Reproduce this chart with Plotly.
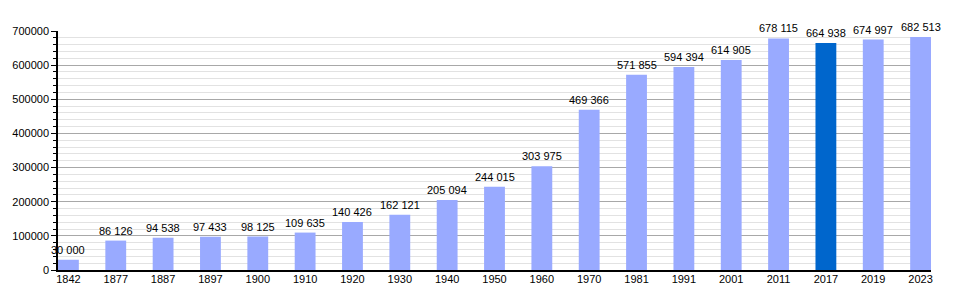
import plotly.graph_objects as go

years = ["1842", "1877", "1887", "1897", "1900", "1910", "1920", "1930", "1940", "1950",
         "1960", "1970", "1981", "1991", "2001", "2011", "2017", "2019", "2023"]
population = [30000, 86126, 94538, 97433, 98125, 109635, 140426, 162121, 205094, 244015,
              303975, 469366, 571855, 594394, 614905, 678115, 664938, 674997, 682513]
highlight_year = "2017"
y_ticks = [0, 100000, 200000, 300000, 400000, 500000, 600000, 700000]

base_color = "#99AAFF"
hl_color = "#0066CC"
colors = [hl_color if y == highlight_year else base_color for y in years]
labels = [f"{v:,}".replace(",", " ") for v in population]
xs = list(range(len(years)))

fig = go.Figure(go.Bar(
    x=xs, y=population, width=0.44,
    marker=dict(color=colors, line=dict(width=0)),
    hoverinfo="skip",
))

for x, v, lab in zip(xs, population, labels):
    fig.add_annotation(
        x=x, y=v, text=lab, showarrow=False,
        xanchor="center", yanchor="bottom", yshift=2,
        font=dict(size=11, color="#000000", family="Liberation Sans"),
    )

fig.update_layout(
    width=960, height=300,
    margin=dict(l=50, r=29, t=31, b=30),
    paper_bgcolor="white", plot_bgcolor="white",
    showlegend=False,
    font=dict(family="Liberation Sans", size=11, color="#000000"),
)
fig.update_xaxes(
    range=[-0.22, len(years) - 1 + 0.22],
    tickmode="array", tickvals=xs, ticktext=years,
    showgrid=False, zeroline=False,
    showline=True, linecolor="#000000", linewidth=1.5,
    ticks="", ticklen=0, ticklabelstandoff=-2,
    tickfont=dict(size=11, color="#000000"),
)
fig.update_yaxes(
    range=[0, 700000],
    tickmode="array", tickvals=y_ticks, tickformat="d",
    showgrid=True, gridcolor="#A8A8A8", gridwidth=1,
    zeroline=False,
    showline=True, linecolor="#000000", linewidth=1.5,
    ticks="outside", ticklen=5, tickcolor="#000000", tickwidth=1,
    tickfont=dict(size=11, color="#000000"),
    minor=dict(dtick=20000, showgrid=True, gridcolor="#E2E2E2", gridwidth=1,
               ticks="outside", ticklen=3, tickcolor="#000000", tickwidth=1),
)

fig.write_html("out.html")
